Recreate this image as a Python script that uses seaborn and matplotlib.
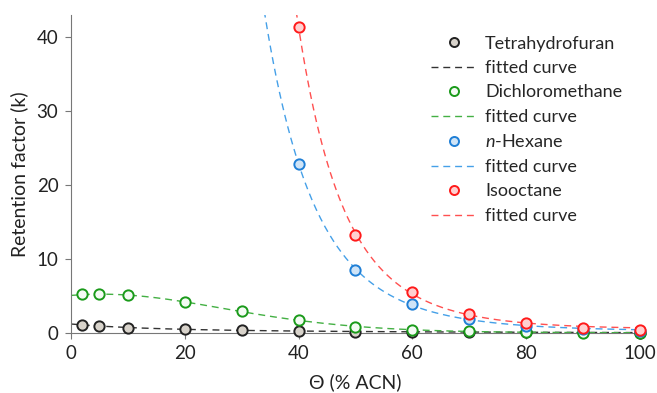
import numpy as np
import pandas as pd
import seaborn as sns
import matplotlib.pyplot as plt
from matplotlib.lines import Line2D

# values
phi_low = [2, 5, 10, 20, 30, 40, 50, 60, 70, 80, 90, 100]
thf_k = [1.1, 0.9, 0.7, 0.5, 0.35, 0.25, 0.18, 0.12, 0.1, 0.08, 0.06, 0.05]
dcm_k = [5.2, 5.2, 5.1, 4.2, 2.9, 1.7, 0.8, 0.45, 0.2, 0.1, 0.05, 0.03]
phi_high = [40, 50, 60, 70, 80, 90, 100]
hex_k = [22.9, 8.5, 3.9, 1.9, 0.9, 0.5, 0.3]
iso_k = [41.4, 13.3, 5.5, 2.6, 1.3, 0.65, 0.35]

solutes = ['Tetrahydrofuran', 'Dichloromethane', 'n-Hexane', 'Isooctane']
labels = ['Tetrahydrofuran', 'Dichloromethane', r'$\mathit{n}$-Hexane', 'Isooctane']
edge_colors = ['#222222', '#1a9a1a', '#1f7fd6', '#ff1a1a']
fill_colors = ['#d8d3cb', '#f4fbf4', '#cfe4f7', '#ffd0d0']
line_colors = ['#333333', '#44b044', '#45a0e8', '#ff5050']

sns.set_style('ticks')
plt.rcParams['font.family'] = ['Lato', 'DejaVu Sans']
plt.rcParams['mathtext.fontset'] = 'custom'
plt.rcParams['mathtext.it'] = 'Lato:italic'
plt.rcParams['mathtext.rm'] = 'Lato'

points = pd.concat([
    pd.DataFrame({'phi': phi_low, 'k': thf_k, 'solute': solutes[0]}),
    pd.DataFrame({'phi': phi_low, 'k': dcm_k, 'solute': solutes[1]}),
    pd.DataFrame({'phi': phi_high, 'k': hex_k, 'solute': solutes[2]}),
    pd.DataFrame({'phi': phi_high, 'k': iso_k, 'solute': solutes[3]}),
])

# fitted curves: polynomial in ln k, weighted by k
grid = np.linspace(0, 100, 400)
curves = []
for name, deg in zip(solutes, [3, 3, 2, 2]):
    d = points[points.solute == name]
    coef = np.polyfit(d.phi, np.log(d.k), deg, w=d.k)
    curves.append(pd.DataFrame({'phi': grid, 'k': np.exp(np.polyval(coef, grid)), 'solute': name}))
curves = pd.concat(curves)

fig, ax = plt.subplots(figsize=(6.57, 3.93), dpi=100)
fig.subplots_adjust(left=0.108, right=0.974, bottom=0.153, top=0.962)

sns.lineplot(data=curves, x='phi', y='k', hue='solute', hue_order=solutes,
             palette=line_colors, linewidth=1.0, legend=False, ax=ax)
for line in ax.get_lines():
    line.set_dashes((5, 3.5))
for name, ec, fc in zip(solutes, edge_colors, fill_colors):
    d = points[points.solute == name]
    sns.scatterplot(data=d, x='phi', y='k', color=fc, edgecolor=ec, linewidth=1.4,
                    s=55, legend=False, ax=ax, zorder=5, clip_on=False)

ax.set_xlim(0, 100)
ax.set_ylim(0, 43)
ax.set_xticks([0, 20, 40, 60, 80, 100])
ax.set_yticks([0, 10, 20, 30, 40])
ax.set_xlabel('Θ (% ACN)', fontsize=14, color='#222222', labelpad=8)
ax.set_ylabel('Retention factor (k)', fontsize=14, color='#222222', labelpad=6)
ax.tick_params(labelsize=13.5, length=4, pad=5, color='#777777', labelcolor='#222222')
for side in ['left', 'bottom']:
    ax.spines[side].set_color('#777777')
sns.despine(ax=ax)

handles = []
legend_labels = []
for lab, ec, fc, lc in zip(labels, edge_colors, fill_colors, line_colors):
    handles.append(Line2D([], [], linestyle='none', marker='o', markersize=6.5,
                          markerfacecolor=fc, markeredgecolor=ec, markeredgewidth=1.4))
    legend_labels.append(lab)
    handles.append(Line2D([], [], color=lc, linewidth=1.0, dashes=(5, 3.5)))
    legend_labels.append('fitted curve')
ax.legend(handles, legend_labels, loc='upper left', bbox_to_anchor=(0.62, 0.958),
          frameon=False, fontsize=13, handlelength=2.6, handletextpad=0.4,
          labelspacing=0.47, borderaxespad=0)

fig.savefig('out.png', dpi=100)
